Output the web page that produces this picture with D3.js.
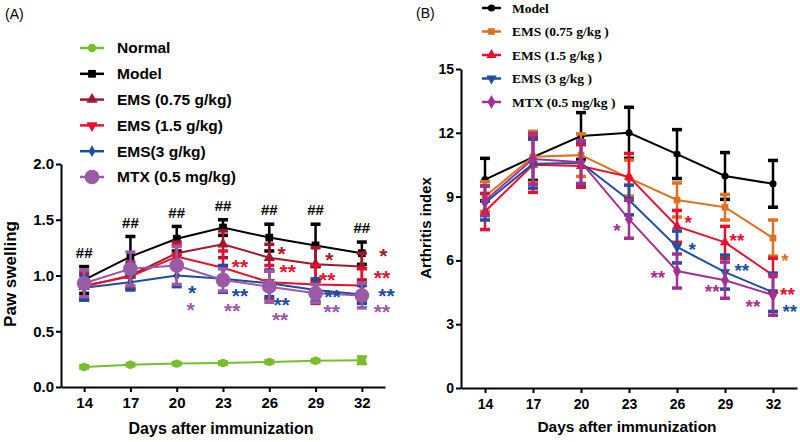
<!DOCTYPE html>
<html>
<head>
<meta charset="utf-8">
<script src="https://cdn.jsdelivr.net/npm/d3@7"></script>
<style>
body { margin: 0; background: #fff; }
svg { display: block; }
</style>
</head>
<body>
<div id="chart"></div>
<script>
// ---- data ----
var days = [14, 17, 20, 23, 26, 29, 32];

// (A) paw swelling
var pawNames = ["Normal", "Model", "EMS (0.75 g/kg)", "EMS (1.5 g/kg)", "EMS(3 g/kg)", "MTX (0.5 mg/kg)"];
var pawNormal    = [0.18, 0.20, 0.21, 0.215, 0.225, 0.235, 0.24];
var pawNormalErr = [0.01, 0.01, 0.01, 0.01, 0.01, 0.01, 0.03];
var pawModel     = [0.96, 1.17, 1.33, 1.43, 1.34, 1.27, 1.20];
var pawModelErr  = [0.12, 0.18, 0.11, 0.07, 0.12, 0.19, 0.10];
var pawEms075    = [0.90, 1.00, 1.20, 1.28, 1.16, 1.10, 1.08];
var pawEms075Err = [0.12, 0.12, 0.10, 0.12, 0.12, 0.15, 0.12];
var pawEms15     = [0.91, 0.99, 1.17, 1.07, 0.94, 0.92, 0.91];
var pawEms15Err  = [0.12, 0.10, 0.10, 0.15, 0.15, 0.17, 0.15];
var pawEms3      = [0.89, 0.94, 1.00, 0.97, 0.93, 0.87, 0.83];
var pawEms3Err   = [0.11, 0.07, 0.10, 0.12, 0.12, 0.10, 0.08];
var pawMtx       = [0.93, 1.06, 1.09, 0.96, 0.90, 0.84, 0.82];
var pawMtxErr    = [0.12, 0.15, 0.17, 0.10, 0.14, 0.08, 0.11];
var pawTicks = [0, 0.5, 1.0, 1.5, 2.0];
// significance marks: [day, level, text, series index]
var pawStars = [
  [21.0, 0.88, "*", 4], [20.9, 0.735, "*", 5],
  [24.1, 1.12, "**", 3], [24.1, 0.86, "**", 4], [23.6, 0.72, "**", 5],
  [26.8, 1.23, "*", 2], [27.2, 1.07, "**", 3], [26.8, 0.78, "**", 4], [26.7, 0.645, "**", 5],
  [29.9, 1.18, "*", 2], [29.75, 1.0, "**", 3], [30.1, 0.85, "**", 4], [30.05, 0.71, "**", 5],
  [33.4, 1.22, "*", 2], [33.3, 1.02, "**", 3], [33.6, 0.86, "**", 4], [33.3, 0.71, "**", 5]
];

// (B) arthritis index
var artNames = ["Model", "EMS (0.75 g/kg )", "EMS (1.5 g/kg )", "EMS (3 g/kg )", "MTX (0.5 mg/kg )"];
var artModel     = [9.8, 10.86, 11.85, 12.0, 11.0, 9.97, 9.6];
var artModelErr  = [1.0, 1.1, 1.1, 1.2, 1.15, 1.1, 1.1];
var artEms075    = [9.0, 10.87, 10.95, 9.87, 8.84, 8.5, 7.05];
var artEms075Err = [0.7, 1.2, 1.0, 0.85, 0.8, 0.6, 0.85];
var artEms15     = [8.3, 10.5, 10.44, 9.93, 7.6, 6.85, 5.3];
var artEms15Err  = [0.85, 1.3, 1.0, 1.1, 0.75, 0.75, 0.8];
var artEms3      = [8.7, 10.55, 10.58, 8.84, 6.63, 5.45, 4.5];
var artEms3Err   = [0.8, 1.15, 1.0, 0.7, 0.75, 0.8, 0.9];
var artMtx       = [8.8, 10.77, 10.62, 7.94, 5.5, 5.07, 4.37];
var artMtxErr    = [0.7, 1.2, 1.0, 0.9, 0.8, 0.85, 0.95];
var artTicks = [0, 3, 6, 9, 12, 15];
var artStars = [
  [22.25, 7.57, "*", 4],
  [26.7, 7.95, "*", 2], [26.95, 6.72, "*", 3], [24.8, 5.4, "**", 4],
  [29.75, 7.1, "**", 2], [30.05, 5.69, "**", 3], [28.2, 4.7, "**", 4],
  [32.75, 6.2, "*", 1], [32.9, 4.56, "**", 2], [33.05, 3.8, "**", 3], [30.75, 4.04, "**", 4]
];

// ---- chart ----
var W = 800, H = 442;
var svg = d3.select("#chart").append("svg").attr("width", W).attr("height", H);
var sans = "'Liberation Sans', Arial, Helvetica, sans-serif";
var narrow = "'Liberation Sans Narrow', 'Arial Narrow', " + sans;
var serif = "'Liberation Serif', 'Times New Roman', serif";

var pawSeries = [
  {name: pawNames[0], v: pawNormal, e: pawNormalErr, color: "#79bd2e", sym: d3.symbolCircle, size: 55, rot: 0},
  {name: pawNames[1], v: pawModel, e: pawModelErr, color: "#000000", sym: d3.symbolSquare, size: 60, rot: 0},
  {name: pawNames[2], v: pawEms075, e: pawEms075Err, color: "#a01a2e", sym: d3.symbolTriangle, size: 55, rot: 0},
  {name: pawNames[3], v: pawEms15, e: pawEms15Err, color: "#e8102e", sym: d3.symbolTriangle, size: 55, rot: 180},
  {name: pawNames[4], v: pawEms3, e: pawEms3Err, color: "#1d4c9c", sym: d3.symbolDiamond, size: 40, rot: 0},
  {name: pawNames[5], v: pawMtx, e: pawMtxErr, color: "#9a5aa6", sym: d3.symbolCircle, size: 170, rot: 0}
];
var artSeries = [
  {name: artNames[0], v: artModel, e: artModelErr, color: "#000000", sym: d3.symbolCircle, size: 40, rot: 0},
  {name: artNames[1], v: artEms075, e: artEms075Err, color: "#dd7224", sym: d3.symbolSquare, size: 45, rot: 0},
  {name: artNames[2], v: artEms15, e: artEms15Err, color: "#e8102e", sym: d3.symbolTriangle, size: 45, rot: 0},
  {name: artNames[3], v: artEms3, e: artEms3Err, color: "#1f4f9d", sym: d3.symbolTriangle, size: 45, rot: 180},
  {name: artNames[4], v: artMtx, e: artMtxErr, color: "#a4318f", sym: d3.symbolDiamond, size: 55, rot: 0}
];

function drawPanel(cfg) {
  var x = d3.scaleLinear().domain([12.5, 33.5]).range(cfg.xr);
  var y = d3.scaleLinear().domain(cfg.yd).range(cfg.yr);
  var g = svg.append("g");

  // axes
  var ya = g.append("g").attr("transform", "translate(" + cfg.xr[0] + ",0)")
    .call(d3.axisLeft(y).tickValues(cfg.ticks).tickFormat(cfg.fmt).tickSize(5).tickSizeOuter(0).tickPadding(2));
  var xa = g.append("g").attr("transform", "translate(0," + cfg.yr[0] + ")")
    .call(d3.axisBottom(x).tickValues(days).tickFormat(d3.format("d")).tickSize(5).tickSizeOuter(0).tickPadding(cfg.xpad));
  [ya, xa].forEach(function(a) {
    a.selectAll("path.domain").attr("stroke", "#000").attr("stroke-width", 2);
    a.selectAll(".tick line").attr("stroke", "#000").attr("stroke-width", 2);
    a.selectAll("text").attr("fill", "#000").style("font-family", cfg.tickFont)
      .style("font-size", cfg.tickSize + "px").style("font-weight", "bold");
  });

  // axis titles
  g.append("text").attr("x", d3.mean(cfg.xr) - 2).attr("y", cfg.xtY)
    .attr("text-anchor", "middle").style("font-family", sans).style("font-weight", "bold")
    .style("font-size", cfg.titleSize + "px").text("Days after immunization");
  g.append("text").attr("transform", "translate(" + cfg.ytX + "," + cfg.ytY + ") rotate(-90)")
    .attr("text-anchor", "middle").style("font-family", sans).style("font-weight", "bold")
    .style("font-size", cfg.yTitleSize + "px").text(cfg.yTitle);

  // series
  cfg.series.forEach(function(s) {
    var sg = g.append("g");
    var pts = days.map(function(d, i) { return {d: d, v: s.v[i], e: s.e[i]}; });
    sg.append("path").datum(pts)
      .attr("fill", "none").attr("stroke", s.color).attr("stroke-width", cfg.lw)
      .attr("d", d3.line().x(function(p) { return x(p.d); }).y(function(p) { return y(p.v); }));
    var eb = sg.selectAll("g.err").data(pts).enter().append("g").attr("class", "err");
    eb.append("line")
      .attr("x1", function(p) { return x(p.d); }).attr("x2", function(p) { return x(p.d); })
      .attr("y1", function(p) { return y(p.v - p.e); }).attr("y2", function(p) { return y(p.v + p.e); })
      .attr("stroke", s.color).attr("stroke-width", cfg.ebw);
    [-1, 1].forEach(function(sgn) {
      eb.append("line")
        .attr("x1", function(p) { return x(p.d) - cfg.cap; }).attr("x2", function(p) { return x(p.d) + cfg.cap; })
        .attr("y1", function(p) { return y(p.v + sgn * p.e); }).attr("y2", function(p) { return y(p.v + sgn * p.e); })
        .attr("stroke", s.color).attr("stroke-width", cfg.capw);
    });
    sg.selectAll("path.mk").data(pts).enter().append("path").attr("class", "mk")
      .attr("transform", function(p) { return "translate(" + x(p.d) + "," + y(p.v) + ") rotate(" + s.rot + ")"; })
      .attr("d", d3.symbol().type(s.sym).size(s.size)).attr("fill", s.color);
  });

  // significance marks
  if (cfg.hash) {
    var m = cfg.series[1];
    g.selectAll("text.hash").data(days).enter().append("text").attr("class", "hash")
      .attr("x", function(d) { return x(d); })
      .attr("y", function(d, i) { return y(m.v[i] + m.e[i]) - 14; })
      .attr("dy", "0.35em").attr("text-anchor", "middle")
      .style("font-family", sans).style("font-weight", "bold").style("font-size", "15px").text("##");
  }
  g.selectAll("text.star").data(cfg.stars).enter().append("text").attr("class", "star")
    .attr("x", function(s) { return x(s[0]); })
    .attr("y", function(s) { return y(s[1]) + cfg.starFs * 0.55; })
    .attr("text-anchor", "middle").attr("fill", function(s) { return cfg.series[s[3]].color; })
    .style("font-family", sans).style("font-weight", "bold").style("font-size", cfg.starFs + "px")
    .text(function(s) { return s[2]; });

  // legend
  var lg = g.selectAll("g.leg").data(cfg.series).enter().append("g").attr("class", "leg")
    .attr("transform", function(s, i) { return "translate(" + cfg.legX + "," + (cfg.legY + i * cfg.legDy) + ")"; });
  lg.append("line").attr("x1", 0).attr("x2", cfg.legLen).attr("stroke", function(s) { return s.color; })
    .attr("stroke-width", cfg.lw + 0.5);
  lg.append("path").attr("transform", function(s) { return "translate(" + cfg.legLen / 2 + ",0) rotate(" + s.rot + ")"; })
    .attr("d", function(s) { return d3.symbol().type(s.sym).size(s.size)(); })
    .attr("fill", function(s) { return s.color; });
  lg.append("text").attr("x", cfg.legTx).attr("dy", "0.35em")
    .style("font-family", cfg.legFont).style("font-weight", "bold").style("font-size", cfg.legSize + "px")
    .text(function(s) { return s.name; });

  g.append("text").attr("x", cfg.tagX).attr("y", cfg.tagY).style("font-family", sans)
    .style("font-size", "14px").text(cfg.tag);
}

drawPanel({
  series: pawSeries, xr: [61, 385], yd: [0, 2], yr: [387, 164], ticks: pawTicks, fmt: d3.format(".1f"),
  xpad: 5, tickFont: sans, tickSize: 15, titleSize: 16, xtY: 434, ytX: 16, ytY: 274, yTitleSize: 17,
  yTitle: "Paw swelling", lw: 2, ebw: 2.5, cap: 5, capw: 3.5, hash: true, stars: pawStars, starFs: 21,
  legX: 80, legY: 48, legDy: 25.8, legLen: 24, legTx: 37, legFont: sans, legSize: 15.5,
  tag: "(A)", tagX: 5, tagY: 19
});
drawPanel({
  series: artSeries, xr: [461, 797], yd: [0, 15], yr: [388, 69], ticks: artTicks, fmt: d3.format("d"),
  xpad: 6, tickFont: narrow, tickSize: 14, titleSize: 15.5, xtY: 432, ytX: 431, ytY: 228, yTitleSize: 15,
  yTitle: "Arthritis index", lw: 2, ebw: 2.5, cap: 5, capw: 3.5, hash: false, stars: artStars, starFs: 19,
  legX: 482, legY: 8, legDy: 23.5, legLen: 19, legTx: 30, legFont: serif, legSize: 13.5,
  tag: "(B)", tagX: 416, tagY: 18
});
</script>
</body>
</html>
